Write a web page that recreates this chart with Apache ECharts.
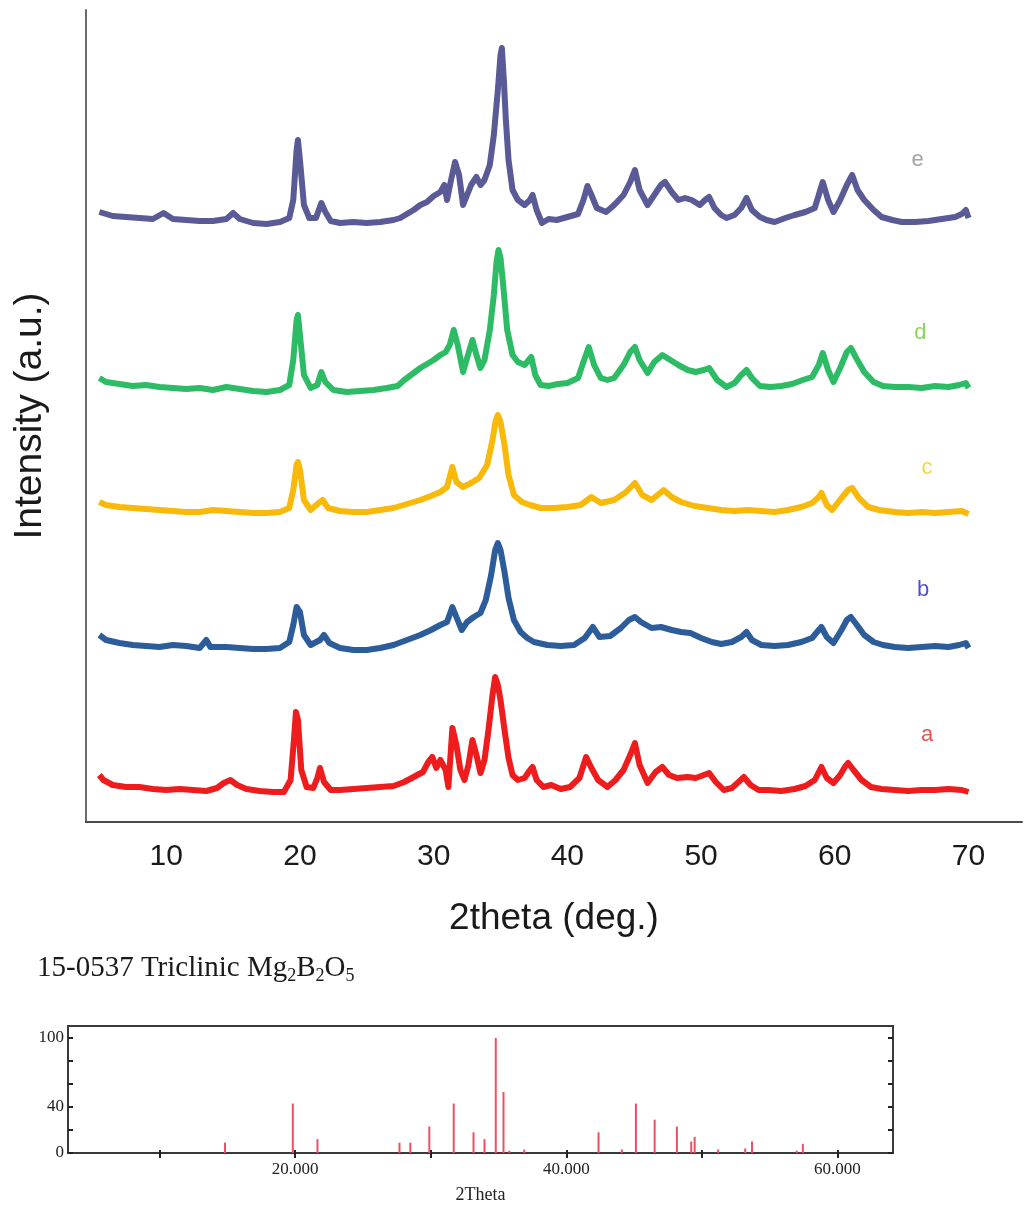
<!DOCTYPE html>
<html>
<head>
<meta charset="utf-8">
<script src="https://cdn.jsdelivr.net/npm/echarts@6/dist/echarts.min.js"></script>
<style>
  html, body { margin: 0; padding: 0; background: #ffffff; }
  #chart { width: 1024px; height: 1207px; }
</style>
</head>
<body>
<div id="chart"></div>
<script>
// XRD patterns of samples a–e, [2θ (deg), intensity (a.u.)], each stacked by its own offset
const traceA = [[5.0,47],[5.3,42],[6,37],[7,35],[8,35],[9,33],[10,32],[11,33],[12,32],[13,31],[13.8,34],[14.3,39],[14.8,42],[15.3,37],[16,33],[17,31],[18,30],[18.8,30],[19.3,42],[19.55,82],[19.7,110],[19.85,102],[20.1,52],[20.5,35],[21.0,34],[21.3,44],[21.5,54],[21.8,40],[22.3,32],[23,32],[24,33],[25,34],[26,35],[27,36],[27.8,40],[28.5,45],[29.2,50],[29.6,60],[29.9,65],[30.2,54],[30.5,62],[30.9,52],[31.1,35],[31.4,94],[31.7,77],[32.0,52],[32.3,42],[32.6,57],[32.9,82],[33.2,67],[33.5,49],[33.8,62],[34.1,92],[34.4,127],[34.6,145],[34.8,137],[35.0,122],[35.3,92],[35.6,64],[35.9,47],[36.3,42],[36.8,44],[37.1,50],[37.4,55],[37.7,42],[38.2,35],[38.8,37],[39.5,33],[40.2,35],[40.9,44],[41.4,65],[41.8,54],[42.3,42],[43.0,35],[43.6,42],[44.2,52],[44.7,67],[45.05,79],[45.4,57],[46.0,39],[46.6,50],[47.1,55],[47.6,47],[48.2,44],[49.0,45],[49.6,44],[50.2,47],[50.6,49],[51.1,40],[51.7,32],[52.3,34],[52.8,40],[53.2,45],[53.7,37],[54.3,32],[55,32],[56,31],[57,33],[57.8,36],[58.5,42],[59.0,55],[59.4,44],[59.9,39],[60.4,47],[60.8,56],[61.0,59],[61.4,52],[62.0,42],[62.7,35],[63.5,33],[64.5,32],[65.5,31],[66.5,32],[67.5,32],[68.5,33],[69.5,32],[70.0,30]];

const traceB = [[5.0,47],[5.5,42],[6.5,39],[7.5,37],[8.5,36],[9.5,35],[10.5,37],[11.5,36],[12.5,34],[13.0,42],[13.3,35],[14.5,35],[15.5,34],[16.5,33],[17.5,33],[18.5,34],[19.2,40],[19.5,57],[19.75,75],[19.85,77],[20.0,70],[20.3,47],[20.8,37],[21.5,42],[21.8,47],[22.2,39],[23,34],[24,32],[25,32],[26,34],[27,37],[28,42],[29,47],[29.8,52],[30.5,57],[31.0,60],[31.4,75],[31.7,65],[32.1,52],[32.5,60],[33.0,65],[33.5,69],[33.9,82],[34.3,107],[34.6,132],[34.8,139],[35.0,132],[35.3,110],[35.6,84],[36.0,62],[36.5,50],[37.0,44],[37.5,40],[38.5,37],[39.5,36],[40.5,37],[41.3,44],[41.9,55],[42.4,45],[43.2,46],[44.0,54],[44.6,62],[45.05,65],[45.5,60],[46.3,54],[47.0,55],[47.8,52],[48.5,50],[49.2,49],[50.0,44],[50.8,40],[51.5,38],[52.3,40],[53.0,45],[53.4,50],[53.8,42],[54.5,37],[55.5,36],[56.5,37],[57.5,40],[58.3,44],[58.8,52],[59.0,55],[59.4,45],[59.9,39],[60.5,52],[60.9,62],[61.2,65],[61.6,58],[62.2,47],[62.9,40],[63.6,37],[64.5,35],[65.5,34],[66.5,35],[67.5,36],[68.5,35],[69.3,37],[69.8,39],[70.0,34]];

const traceC = [[5.0,40],[5.5,37],[6.5,35],[7.5,34],[8.5,33],[9.5,32],[10.5,31],[11.5,30],[12.5,30],[13.5,32],[14.5,31],[15.5,30],[16.5,29],[17.5,29],[18.5,30],[19.2,34],[19.5,52],[19.75,77],[19.85,80],[20.0,72],[20.3,42],[20.8,32],[21.4,39],[21.7,42],[22.1,34],[23,31],[24,30],[25,30],[26,32],[27,34],[28,38],[29,42],[29.8,46],[30.5,50],[31.0,55],[31.4,75],[31.7,60],[32.2,55],[32.8,59],[33.4,64],[34.0,77],[34.4,102],[34.65,122],[34.8,127],[35.0,120],[35.3,97],[35.6,67],[36.0,47],[36.6,40],[37.2,37],[38,34],[39,34],[40,35],[41,37],[41.8,45],[42.5,39],[43.5,42],[44.3,49],[45.05,59],[45.6,47],[46.3,42],[47.2,52],[47.8,45],[48.5,40],[49.5,36],[50.5,34],[51.5,32],[52.5,31],[53.5,32],[54.5,31],[55.5,30],[56.5,32],[57.5,35],[58.3,39],[58.8,45],[59.0,49],[59.4,37],[59.8,32],[60.5,44],[61.0,52],[61.3,54],[61.8,44],[62.5,35],[63.3,32],[64.5,30],[65.5,29],[66.5,30],[67.5,29],[68.5,30],[69.5,31],[70.0,28]];

const traceD = [[5.0,34],[5.5,30],[6.5,28],[7.5,26],[8.5,27],[9.5,25],[10.5,24],[11.5,23],[12.5,24],[13.5,22],[14.5,25],[15.5,23],[16.5,21],[17.5,20],[18.5,22],[19.2,27],[19.5,52],[19.75,92],[19.85,97],[20.0,77],[20.3,37],[20.8,24],[21.3,27],[21.6,40],[21.9,30],[22.5,22],[23.5,20],[24.5,21],[25.5,22],[26.5,24],[27.3,26],[27.8,32],[28.5,39],[29,44],[29.5,48],[30,52],[30.5,57],[30.9,60],[31.2,67],[31.5,82],[31.8,67],[32.2,40],[32.5,54],[32.9,72],[33.2,57],[33.5,44],[33.8,52],[34.2,82],[34.5,117],[34.7,150],[34.85,162],[35.0,154],[35.2,127],[35.5,82],[35.9,57],[36.3,50],[36.8,47],[37.3,55],[37.6,37],[38.0,27],[38.6,26],[39.3,28],[40,29],[40.8,34],[41.2,50],[41.6,65],[42.0,47],[42.5,34],[43.0,32],[43.5,34],[44.2,47],[44.7,60],[45.05,65],[45.4,52],[46.0,39],[46.5,50],[47.1,57],[47.7,52],[48.3,47],[49.0,42],[49.6,40],[50.2,42],[50.6,44],[51.2,32],[51.9,25],[52.5,29],[53.0,37],[53.4,42],[53.8,34],[54.4,26],[55.2,25],[56,26],[56.8,28],[57.6,32],[58.3,35],[58.8,47],[59.1,59],[59.5,42],[59.9,30],[60.4,44],[60.9,60],[61.2,64],[61.6,54],[62.2,40],[62.9,30],[63.6,26],[64.5,25],[65.5,25],[66.5,24],[67.5,26],[68.5,25],[69.3,27],[69.8,29],[70.0,24]];

const traceE = [[5.0,35],[5.5,33],[6,31],[7,30],[8,29],[9,28],[9.8,34],[10.5,28],[11.5,27],[12.5,26],[13.5,26],[14.5,28],[15.0,34],[15.5,28],[16.5,24],[17.5,23],[18.5,25],[19.2,29],[19.5,47],[19.75,97],[19.85,107],[20.0,87],[20.3,42],[20.7,29],[21.2,29],[21.6,44],[21.9,35],[22.3,26],[23,24],[24,25],[25,24],[26,25],[27,27],[27.5,29],[28,33],[28.5,37],[29,42],[29.5,45],[30,51],[30.5,55],[30.8,62],[31.0,47],[31.3,67],[31.6,85],[31.9,72],[32.2,42],[32.5,52],[32.8,62],[33.2,70],[33.5,62],[33.8,67],[34.2,82],[34.5,112],[34.8,157],[35.0,192],[35.1,199],[35.25,167],[35.4,127],[35.6,87],[35.9,57],[36.3,47],[36.8,42],[37.2,47],[37.4,52],[37.7,37],[38.1,24],[38.6,28],[39.2,27],[40,30],[40.8,33],[41.2,47],[41.5,61],[41.8,52],[42.2,39],[42.9,35],[43.5,42],[44.2,52],[44.7,65],[45.05,77],[45.4,57],[46.0,42],[46.5,52],[47.0,62],[47.3,65],[47.8,55],[48.3,47],[48.8,49],[49.3,47],[49.9,42],[50.3,47],[50.6,50],[51.0,39],[51.5,32],[51.9,29],[52.5,32],[53.0,39],[53.4,49],[53.8,37],[54.4,30],[54.9,27],[55.5,25],[56.3,29],[57.0,32],[57.8,35],[58.5,39],[58.8,52],[59.1,65],[59.5,47],[59.9,35],[60.4,47],[60.9,62],[61.3,72],[61.7,57],[62.2,47],[62.9,37],[63.5,30],[64.3,27],[65,25],[66,25],[67,26],[68,28],[69,30],[69.5,33],[69.8,37],[70.0,29]];

// vertical offsets used to stack the patterns
const sampleNames = ['a', 'b', 'c', 'd', 'e'];
const sampleOffsets = [0, 140, 280, 410, 575];
const sampleTraces = [traceA, traceB, traceC, traceD, traceE];
// where each sample letter sits: [2θ, height above its own trace offset]
const sampleLabelAt = [[66.9, 87], [66.6, 92], [66.9, 74], [66.4, 79], [66.2, 87]];

const twoThetaTicks = [10, 20, 30, 40, 50, 60, 70];

// PDF card 15-0537, triclinic Mg2B2O5: [2θ, relative intensity]
const refPeaks = [[14.83,9],[19.83,43],[21.65,12],[27.7,9],[28.5,9],[29.9,23],[31.7,43],[33.16,18],[33.97,12],[34.8,100],[35.37,53],[35.8,2],[36.9,3],[42.38,18],[44.1,3],[45.14,43],[46.52,29],[48.16,23],[49.22,10],[49.47,14],[51.2,3],[53.2,4],[53.7,10],[57.0,2],[57.45,8]];
const refXLabels = [20, 40, 60];
const refXTicks = [10, 20, 30, 40, 50, 60];
const refYLabels = [0, 40, 100];
const refYTicks = [0, 20, 40, 60, 80, 100];

const lineColors = ['#ee1c1c', '#2c5d9a', '#f8b90a', '#2ebb66', '#5a5a96'];
const labelColors = ['#e8262c', '#2626c4', '#f3cc1c', '#6acc32', '#8c8c8c'];

const sans = '"Liberation Sans", Arial, sans-serif';
const serif = '"Liberation Serif", "Times New Roman", serif';

const series = [];
sampleTraces.forEach((tr, i) => {
  series.push({
    name: sampleNames[i],
    type: 'line',
    xAxisIndex: 0, yAxisIndex: 0,
    showSymbol: false,
    silent: true,
    data: tr.map(p => [p[0], p[1] + sampleOffsets[i]]),
    lineStyle: { color: lineColors[i], width: 6, join: 'round' },
    z: 2
  });
  series.push({
    type: 'scatter',
    xAxisIndex: 0, yAxisIndex: 0,
    symbolSize: 0,
    silent: true,
    data: [{ value: [sampleLabelAt[i][0], sampleLabelAt[i][1] + sampleOffsets[i]], name: sampleNames[i] }],
    label: {
      show: true, position: 'inside', formatter: '{b}',
      color: labelColors[i], fontSize: 22, fontFamily: sans
    },
    z: 3
  });
});

series.push({
  type: 'bar',
  xAxisIndex: 1, yAxisIndex: 1,
  barWidth: 2,
  silent: true,
  data: refPeaks,
  itemStyle: { color: '#ef4f63' }
});

const chart = echarts.init(document.getElementById('chart'), null, { renderer: 'canvas' });
chart.setOption({
  animation: false,
  backgroundColor: '#ffffff',
  grid: [
    { left: 86, top: 10, width: 936, height: 812, show: false },
    { left: 68, top: 1026, width: 825, height: 127, show: true, borderColor: '#3a3a3a', borderWidth: 2, backgroundColor: 'transparent' }
  ],
  xAxis: [
    {
      gridIndex: 0, type: 'value', min: 4, max: 74,
      axisLine: { show: true, onZero: false, lineStyle: { color: '#4a4a4a', width: 2 } },
      axisTick: { show: false },
      splitLine: { show: false },
      axisLabel: { customValues: twoThetaTicks, fontSize: 30, fontFamily: sans, color: '#1a1a1a', margin: 20 },
      name: '2theta (deg.)', nameLocation: 'middle', nameGap: 78,
      nameTextStyle: { fontSize: 37, fontFamily: sans, color: '#1a1a1a' }
    },
    {
      gridIndex: 1, type: 'value', min: 3.25, max: 64.1, position: 'bottom',
      axisLine: { show: false },
      axisTick: { show: true, inside: true, length: 3, customValues: refXTicks, lineStyle: { color: '#222', width: 2 } },
      splitLine: { show: false },
      axisLabel: { customValues: refXLabels, formatter: v => v.toFixed(3), fontSize: 17, fontFamily: serif, color: '#222', margin: 8 },
      name: '2Theta', nameLocation: 'middle', nameGap: 33,
      nameTextStyle: { fontSize: 18, fontFamily: serif, color: '#222' }
    },
    {
      gridIndex: 1, type: 'value', min: 3.25, max: 64.1, position: 'top',
      axisLine: { show: false },
      axisTick: { show: true, inside: true, length: 5, customValues: refXTicks, lineStyle: { color: '#222', width: 2 } },
      splitLine: { show: false },
      axisLabel: { show: false }
    }
  ],
  yAxis: [
    {
      gridIndex: 0, type: 'value', min: 0, max: 812,
      axisLine: { show: true, onZero: false, lineStyle: { color: '#6a6a6a', width: 2 } },
      axisTick: { show: false },
      axisLabel: { show: false },
      splitLine: { show: false },
      name: 'Intensity (a.u.)', nameLocation: 'middle', nameRotate: 90, nameGap: 36,
      nameTextStyle: { fontSize: 39, fontFamily: sans, color: '#1a1a1a' }
    },
    {
      gridIndex: 1, type: 'value', min: 0, max: 110.4, position: 'left',
      axisLine: { show: false },
      axisTick: { show: true, inside: true, length: 5, customValues: refYTicks, lineStyle: { color: '#222', width: 2 } },
      splitLine: { show: false },
      axisLabel: { customValues: refYLabels, fontSize: 17, fontFamily: serif, color: '#222', margin: 4 }
    },
    {
      gridIndex: 1, type: 'value', min: 0, max: 110.4, position: 'right',
      axisLine: { show: false },
      axisTick: { show: true, inside: true, length: 5, customValues: refYTicks, lineStyle: { color: '#222', width: 2 } },
      splitLine: { show: false },
      axisLabel: { show: false }
    }
  ],
  graphic: [
    {
      type: 'text', left: 37, top: 954,
      style: {
        text: '15-0537 Triclinic Mg{s|2}B{s|2}O{s|5}',
        font: '29px ' + serif,
        fill: '#1a1a1a',
        rich: {
          s: { fontSize: 18, fontFamily: serif, fill: '#1a1a1a', verticalAlign: 'bottom', lineHeight: 34 }
        }
      }
    }
  ],
  series: series
});
</script>
</body>
</html>
